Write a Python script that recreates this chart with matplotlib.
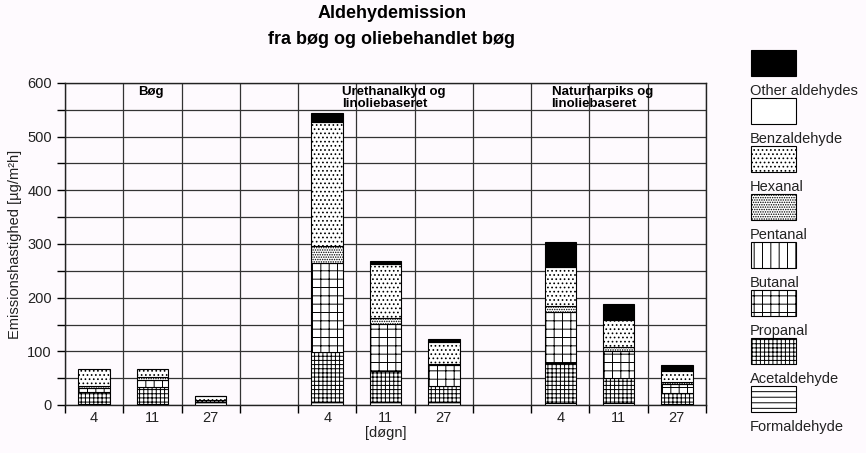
import numpy as np
import matplotlib
matplotlib.use("Agg")
import matplotlib.pyplot as plt
from matplotlib.patches import Rectangle

plt.rcParams['font.family'] = ['Liberation Sans', 'DejaVu Sans']
plt.rcParams['hatch.linewidth'] = 0.7

# categories (gap slots left empty)
tick_labels = ["4", "11", "27", "", "4", "11", "27", "", "4", "11", "27"]
group_labels = ["Bøg", "Urethanalkyd og\nlinoliebaseret", "Naturharpiks og\nlinoliebaseret"]
group_label_x = [0.75, 4.25, 7.85]

# series, bottom to top in the stack
series = ["Formaldehyde", "Acetaldehyde", "Propanal", "Butanal",
          "Pentanal", "Hexanal", "Benzaldehyde", "Other aldehydes"]
formaldehyde = [2, 2, 5, 0, 6, 6, 6, 0, 3, 3, 2]
acetaldehyde = [22, 32, 4, 0, 92, 58, 30, 0, 75, 47, 20]
propanal = [8, 12, 0, 0, 166, 87, 39, 0, 96, 51, 17]
butanal = [0, 0, 0, 0, 0, 0, 0, 0, 0, 0, 0]
pentanal = [3, 6, 1, 0, 33, 12, 2, 0, 11, 8, 4]
hexanal = [33, 15, 6, 0, 231, 100, 41, 0, 72, 50, 21]
benzaldehyde = [0, 0, 0, 0, 0, 0, 0, 0, 0, 0, 0]
other = [0, 0, 1, 0, 16, 5, 5, 0, 46, 30, 11]
values = [formaldehyde, acetaldehyde, propanal, butanal,
          pentanal, hexanal, benzaldehyde, other]

hatches = ['---', '++++', '++', '||', '.......', '....', '', '']
faces = ['white', 'white', 'white', 'white', 'white', 'white', 'white', 'black']

bg = '#fefafe'
W, H = 866, 453
fig = plt.figure(figsize=(W / 100, H / 100), dpi=100, facecolor=bg)
ax = fig.add_axes([65 / W, (H - 405) / H, (706 - 65) / W, (405 - 83) / H], facecolor=bg)

x = np.arange(len(tick_labels))
bottom = np.zeros(len(x))
for name, vals, hatch, fc in zip(series, values, hatches, faces):
    vals = np.array(vals, dtype=float)
    lw = np.where(vals > 0, 0.8, 0.0)
    ax.bar(x, vals, width=0.54, bottom=bottom, color=fc, edgecolor='black',
           hatch=hatch, linewidth=lw, zorder=3)
    bottom += vals

ax.set_xlim(-0.5, len(x) - 0.5)
ax.set_ylim(0, 600)
ax.set_yticks(np.arange(0, 601, 100))
ax.set_yticks(np.arange(50, 600, 100), minor=True)
ax.set_xticks(np.arange(-0.5, len(x), 1.0))
ax.set_xticklabels([])
ax.set_xticks(x, minor=True)
ax.set_xticklabels(tick_labels, minor=True)
ax.tick_params(axis='x', which='major', length=6, width=1, direction='out')
ax.tick_params(axis='x', which='minor', length=0, pad=4, labelsize=10.5, labelcolor='#222222')
ax.tick_params(axis='y', which='both', length=6, width=1, direction='out',
               labelsize=10.5, labelcolor='#222222')
ax.grid(True, which='both', axis='y', color='#333333', linewidth=0.9, zorder=0)
ax.grid(True, which='major', axis='x', color='#333333', linewidth=0.9, zorder=0)
for s in ax.spines.values():
    s.set_color('#222222')
    s.set_linewidth(1)

for lbl, gx in zip(group_labels, group_label_x):
    ax.text(gx, 594, lbl, ha='left', va='top', fontsize=9.5, fontweight='bold',
            linespacing=1.0, zorder=4)

ax.set_xlabel("[døgn]", fontsize=10.5, color='#222222', labelpad=1)
ax.set_ylabel("Emissionshastighed [µg/m²h]", fontsize=10.5, color='#222222', labelpad=4)

fig.text(392 / W, 1 - 14 / H, "Aldehydemission", ha='center', va='center',
         fontsize=13, fontweight='bold')
fig.text(392 / W, 1 - 40 / H, "fra bøg og oliebehandlet bøg", ha='center', va='center',
         fontsize=13, fontweight='bold')

# legend: swatch with its label below, top to bottom
lax = fig.add_axes([0, 0, 1, 1], facecolor='none')
lax.set_xlim(0, W)
lax.set_ylim(H, 0)
lax.axis('off')
for i, k in enumerate(range(len(series) - 1, -1, -1)):
    y0 = 50 + 48 * i
    lax.add_patch(Rectangle((751, y0), 45, 26, facecolor=faces[k], edgecolor='black',
                            hatch=hatches[k], linewidth=0.8))
    lax.text(750, y0 + 41, series[k], ha='left', va='center', fontsize=10.5, color='#222222')

fig.savefig("out.png", dpi=100, facecolor=bg)
